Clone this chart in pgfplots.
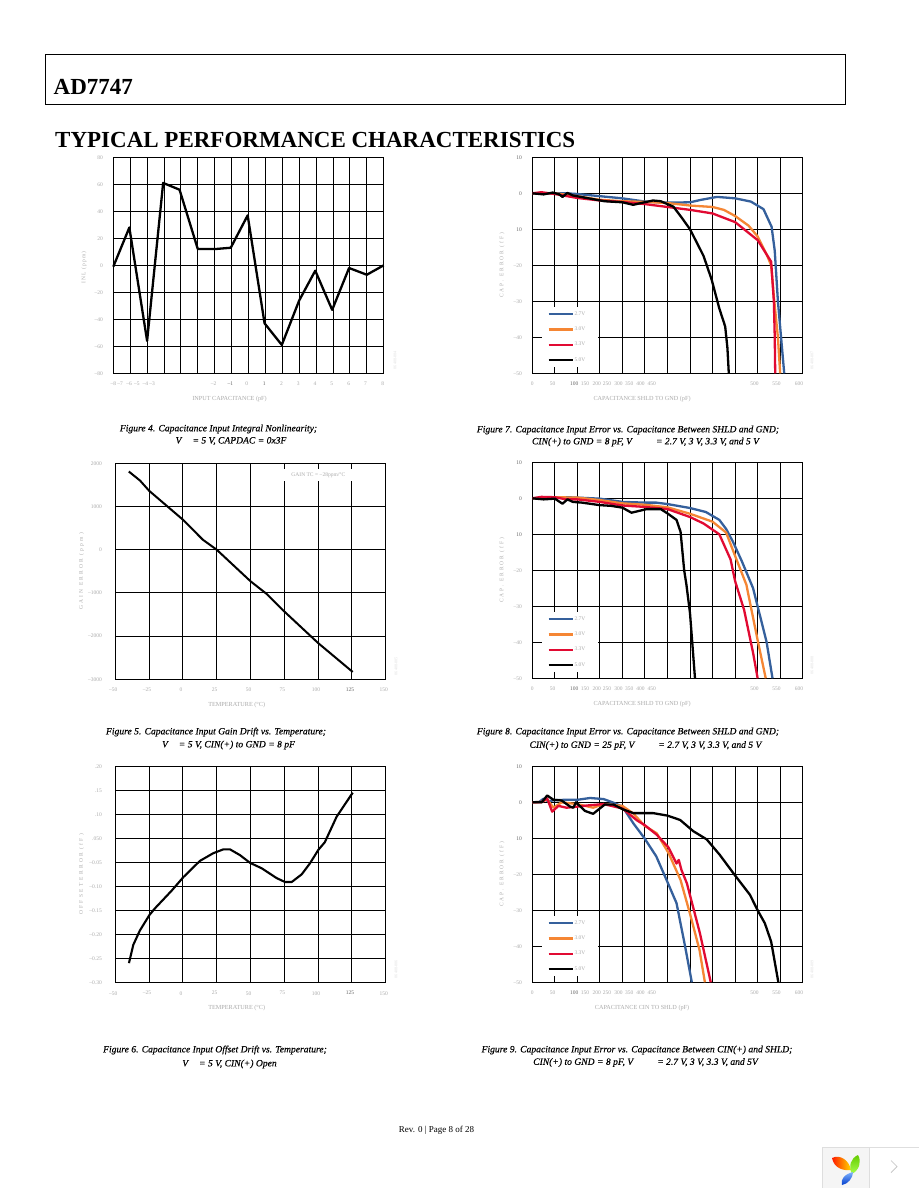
\documentclass[border=0pt]{standalone}
\usepackage{fontspec}
\setmainfont{Liberation Serif}
\newfontface\capface[FakeBold=0.2]{Liberation Serif Italic}
\usepackage{pgfplots}
\pgfplotsset{compat=1.18}
\definecolor{lg}{HTML}{ABABAB}
\definecolor{dg}{HTML}{666666}
\definecolor{cblue}{HTML}{35609C}
\definecolor{corange}{HTML}{F58634}
\definecolor{cred}{HTML}{E10A32}
\newcommand{\tinyf}{\fontsize{5.5}{6.5}\selectfont}
\newcommand{\labf}{\fontsize{6.2}{7}\selectfont}
\newcommand{\capf}{\fontsize{9.6}{12}\selectfont\capface}
\newcommand{\vdd}[1]{V\hspace{#1}}
\newcommand{\spaced}[2]{{\tinyf\addfontfeature{LetterSpace=#1}#2}}
\newcommand{\lgt}[1]{\makebox[18pt][l]{#1}}
\pgfplotsset{
  base/.style={scale only axis,width=270.4pt,height=216pt,anchor=north west,
    grid=major,major grid style={black,line width=0.95pt},
    axis line style={line width=1.4pt},
    major tick length=0pt,
    tick label style={font=\tinyf,text=lg},
    label style={font=\labf,text=lg},
    xticklabel shift=5.5pt,yticklabel shift=7pt,
    extra x tick style={grid=none,major tick length=0pt},
    clip=false,
  },
  caps/.style={base,
    xmin=0,xmax=600,ymin=-50,ymax=10,
    xtick={0,50,...,600},xticklabels={},
    ytick={-50,-40,...,10},
    yticklabels={--50,--40,--30,--20,\textcolor{dg}{10},\textcolor{dg}{0},\textcolor{dg}{10}},
    extra x ticks={0,45,93,117,143,166,191,215,240,265,493,542,592},
    extra x tick labels={0,50,\textcolor{dg}{100},150,200,250,300,350,400,450,500,550,600},
    ylabel style={at={(rel axis cs:-0.112,0.5)},anchor=center},
    xlabel style={at={(rel axis cs:0.406,-0.119)},anchor=center},
    legend style={at={(axis cs:20.7,-31.5)},anchor=north west,draw=none,fill=white,
      font=\tinyf,text=lg,inner xsep=5.7pt,inner ysep=4.6pt,row sep=10.2pt,
      nodes={inner sep=0pt,anchor=west}},
    legend cell align=left,
    legend image code/.code={\draw[##1] (0pt,0pt) -- (18pt,0pt); \path (18pt,0pt) -- (24.7pt,0pt);},
  },
  temp/.style={base,
    xmin=-50,xmax=150,xtick={-50,-25,...,150},
    xticklabels={--50,--25,0,25,50,75,100,\textcolor{dg}{125},150},
    xticklabel style={xshift=-2pt},yticklabel shift=10pt,
    xlabel style={at={(rel axis cs:0.449,-0.119)},anchor=center},
    ylabel style={at={(rel axis cs:-0.125,0.5)},anchor=center},
  },
  cl/.style={no markers,line width=2.3pt,line join=round,#1},
}
\begin{document}
\begin{tikzpicture}[x=1pt,y=1pt]
\path[use as bounding box,fill=white] (0,0) rectangle (918,-1188);
% header
\draw[line width=0.9pt] (45.3,-54.3) rectangle (845.5,-104.3);
\node[anchor=base west,inner sep=0pt,font=\fontsize{23}{24}\selectfont\bfseries] at (53.5,-94.5) {AD7747};
\node[anchor=base west,inner sep=0pt,font=\fontsize{23}{24}\selectfont\bfseries] at (55,-147.5) {TYPICAL PERFORMANCE CHARACTERISTICS};

% Figure 4
\begin{axis}[base,at={(113.3pt,-157.3pt)},
  xmin=-8,xmax=8,ymin=-80,ymax=80,
  xtick={-8,-7,...,8},xticklabels={},
  ytick={-80,-60,...,80},yticklabels={--80,--60,--40,--20,0,20,40,60,80},
  extra x ticks={-8,-7.6,-7.07,-6.6,-6.1,-5.7,-2.07,-1.07,-0.1,0.93,1.95,2.95,3.93,4.93,5.93,6.92,7.95},
  extra x tick labels={--8,--7,--6,--5,--4,--3,--2,\textcolor{dg}{--1},0,\textcolor{dg}{1},2,3,4,5,6,7,8},
  ylabel={\spaced{20}{INL (ppm)}},ylabel style={at={(rel axis cs:-0.108,0.49)},anchor=center},
  xlabel style={at={(rel axis cs:0.43,-0.119)},anchor=center},
  xlabel={INPUT CAPACITANCE (pF)}]
\addplot[cl=black] coordinates {(-8,-1)(-7.05,28)(-6,-56)(-5.05,61)(-4.08,56)(-3,12)(-2,12)(-1.05,13)(-0.05,37)(0.95,-43)(1.97,-59)(3,-26)(3.95,-4)(4.95,-33)(5.95,-2)(7,-7)(8,0)};
\end{axis}
\node[rotate=90,font=\fontsize{4.2}{5}\selectfont,text=black!12] at (395,-360) {06408-004};

% Figure 7
\begin{axis}[caps,at={(532.3pt,-157.3pt)},
  ylabel={\spaced{36}{CAP. ERROR (fF)}},xlabel={CAPACITANCE SHLD TO GND (pF)}]
\addplot[cl=cblue] coordinates {(0,0)(25,-.1)(50,0)(75,0)(100,-.2)(150,-.8)(200,-1.4)(250,-2.3)(300,-2.6)(350,-2.5)(375,-1.8)(410,-1)(450,-1.4)(485,-2.3)(513,-4.4)(531,-9.3)(538,-16)(545,-30)(552,-40)(559,-50)};
\addlegendentry{\lgt{2.7V}}
\addplot[cl=corange] coordinates {(0,0)(50,0)(100,-.8)(150,-1.8)(200,-2.2)(250,-2.4)(300,-2.7)(350,-3.4)(400,-3.8)(425,-4.6)(450,-6.3)(480,-9)(500,-12)(520,-17)(530,-20)(537,-30)(545,-40)(550,-50)};
\addlegendentry{\lgt{3.0V}}
\addplot[cl=cred] coordinates {(0,0)(20,.3)(50,-.2)(100,-1.3)(150,-2)(200,-2.4)(250,-3)(300,-3.8)(350,-4.6)(400,-5.6)(450,-8)(500,-13)(530,-19)(536,-30)(538,-40)(539,-50)};
\addlegendentry{\lgt{3.3V}}
\addplot[cl=black] coordinates {(0,0)(25,-.3)(45,.2)(60,-.3)(67,-1)(78,.1)(90,-.6)(125,-1.4)(160,-2.2)(200,-2.5)(224,-3.2)(245,-2.6)(268,-2)(285,-2.2)(313,-3.7)(330,-6.5)(350,-10)(380,-17.4)(398,-24)(415,-32)(428,-37)(433,-43)(436,-50)};
\addlegendentry{\lgt{5.0V}}
\end{axis}
\node[rotate=90,font=\fontsize{4.2}{5}\selectfont,text=black!12] at (812,-360) {06408-007};

% Figure 5
\begin{axis}[temp,at={(115.3pt,-463.3pt)},ymin=-3000,ymax=2000,
  ytick={-3000,-2000,...,2000},yticklabels={--3000,--2000,--1000,0,1000,2000},
  ylabel={\spaced{40}{GAIN ERROR (ppm)}},xlabel={TEMPERATURE (°C)}]
\addplot[cl=black,line width=2pt] coordinates {(-40,1810)(-31.7,1600)(-25,1365)(0,695)(14.8,230)(25,0)(50,-730)(62,-1025)(75,-1430)(100,-2160)(125.6,-2830)};
\node[fill=white,inner xsep=0pt,inner ysep=3pt,font=\tinyf,text=lg,minimum width=72pt,minimum height=12pt] at (axis cs:100.2,1720) {GAIN TC = −28ppm/°C\hspace{5pt}};
\end{axis}
\node[rotate=90,font=\fontsize{4.2}{5}\selectfont,text=black!12] at (396,-666) {06408-005};

% Figure 8
\begin{axis}[caps,at={(532.3pt,-462.3pt)},
  ylabel={\spaced{36}{CAP. ERROR (fF)}},xlabel={CAPACITANCE SHLD TO GND (pF)}]
\addplot[cl=cblue] coordinates {(0,0)(50,.3)(75,.3)(100,.2)(150,-.1)(200,-1)(250,-1.2)(275,-1.2)(300,-1.6)(350,-2.7)(385,-3.8)(415,-6)(430,-8.5)(445,-12)(465,-17.5)(490,-25)(500,-30)(520,-40)(533,-50)};
\addlegendentry{\lgt{2.7V}}
\addplot[cl=corange] coordinates {(0,0)(50,.3)(100,.2)(150,-.5)(200,-1.4)(250,-1.8)(300,-2.5)(350,-4.3)(400,-6.5)(430,-9.5)(450,-16)(475,-24)(501,-40)(518,-50)};
\addlegendentry{\lgt{3.0V}}
\addplot[cl=cred] coordinates {(0,0)(20,.4)(50,.3)(75,-.3)(100,-.3)(150,-1)(200,-2)(250,-2.4)(300,-3)(350,-5.2)(380,-7)(415,-10)(440,-17)(450,-23)(470,-31)(490,-43)(500,-50)};
\addlegendentry{\lgt{3.3V}}
\addplot[cl=black] coordinates {(0,0)(25,-.3)(50,-.1)(67,-1.5)(78,-.3)(90,-1)(110,-1.2)(150,-1.9)(175,-2.1)(200,-2.6)(220,-4)(254,-3)(285,-3)(300,-4.2)(320,-6)(329,-9.3)(337,-20)(342,-24)(350,-32)(361,-50)};
\addlegendentry{\lgt{5.0V}}
\end{axis}
\node[rotate=90,font=\fontsize{4.2}{5}\selectfont,text=black!12] at (812,-665) {06408-008};

% Figure 6
\begin{axis}[temp,at={(115.3pt,-766.3pt)},ymin=-0.30,ymax=0.15,
  ytick={-0.30,-0.25,-0.20,-0.15,-0.10,-0.05,0,0.05,0.10,0.15},
  yticklabels={--0.30,--0.25,--0.20,--0.15,--0.10,--0.05,.050,.10,.15,.20},
  ylabel={\spaced{40}{OFFSET ERROR (fF)}},xlabel={TEMPERATURE (°C)}]
\addplot[cl=black,line width=2.1pt] coordinates {(-39.9,-.26)(-36.7,-.222)(-31.8,-.192)(-24.8,-.16)(-20.7,-.146)(-8.3,-.109)(.3,-.081)(12.6,-.047)(22.5,-.031)(29.9,-.023)(34.8,-.023)(42.2,-.035)(49.6,-.051)(58.3,-.0625)(69.4,-.083)(75.5,-.091)(80.5,-.091)(87.9,-.075)(94,-.052)(100.2,-.024)(105,-.008)(113.7,.045)(125.6,.095)};
\end{axis}
\node[rotate=90,font=\fontsize{4.2}{5}\selectfont,text=black!12] at (396,-969) {06408-006};

% Figure 9
\begin{axis}[caps,at={(532.3pt,-766.3pt)},
  ylabel={\spaced{36}{CAP. ERROR (fF)}},xlabel={CAPACITANCE CIN TO SHLD (pF)}]
\addplot[cl=cblue] coordinates {(0,0)(15,.1)(25,1)(35,.3)(50,.6)(75,.7)(100,.7)(128,1.2)(158,.9)(180,-.1)(200,-1.2)(224,-5.8)(249,-10)(275,-15)(298,-21.6)(320,-28)(339,-40)(354,-50)};
\addlegendentry{\lgt{2.7V}}
\addplot[cl=corange] coordinates {(0,0)(20,.1)(33,.8)(47,-1.5)(65,0)(100,-.5)(135,-1.5)(158,-.5)(200,-1)(224,-3.1)(249,-6.5)(276,-8.6)(302,-14)(329,-21.6)(350,-31)(371,-41)(383,-50)};
\addlegendentry{\lgt{3.0V}}
\addplot[cl=cred] coordinates {(0,0)(20,0)(33,1.1)(44,-2.6)(58,-1)(76,-1.5)(100,-1.2)(128,-.8)(158,-.5)(200,-1.7)(232,-5)(249,-6.3)(276,-9)(302,-12.5)(320,-17)(325,-16)(331,-18.8)(343,-22.5)(372,-36.4)(396,-50)};
\addlegendentry{\lgt{3.3V}}
\addplot[cl=black] coordinates {(0,0)(21,0)(33,1.9)(47,.7)(65,.5)(84,-1.2)(91,-1.5)(97,0)(117,-2.4)(135,-3.2)(161,-.6)(180,-.6)(200,-1.9)(224,-3)(268,-3)(300,-3.7)(328,-4.9)(357,-8)(387,-10.3)(416,-14.6)(448,-20)(483,-25.7)(500,-30)(516,-33.6)(530,-38.7)(546,-50)};
\addlegendentry{\lgt{5.0V}}
\end{axis}
\node[rotate=90,font=\fontsize{4.2}{5}\selectfont,text=black!12] at (812,-969) {06408-009};

% captions
\node[font=\capf] at (218.5,-429) {Figure 4. Capacitance Input Integral Nonlinearity;};
\node[font=\capf] at (231,-441) {\vdd{11pt}= 5 V, CAPDAC = 0x3F};
\node[font=\capf] at (628,-430) {Figure 7. Capacitance Input Error vs. Capacitance Between SHLD and GND;};
\node[font=\capf] at (645.5,-442) {CIN(+) to GND = 8 pF, \vdd{24pt}= 2.7 V, 3 V, 3.3 V, and 5 V};
\node[font=\capf] at (216,-732) {Figure 5. Capacitance Input Gain Drift vs. Temperature;};
\node[font=\capf] at (228.5,-745) {\vdd{11pt}= 5 V, CIN(+) to GND = 8 pF};
\node[font=\capf] at (628,-732) {Figure 8. Capacitance Input Error vs. Capacitance Between SHLD and GND;};
\node[font=\capf] at (645.5,-745.5) {CIN(+) to GND = 25 pF, \vdd{24pt}= 2.7 V, 3 V, 3.3 V, and 5 V};
\node[font=\capf] at (215,-1050) {Figure 6. Capacitance Input Offset Drift vs. Temperature;};
\node[font=\capf] at (229.5,-1064) {\vdd{11pt}= 5 V, CIN(+) Open};
\node[font=\capf] at (637,-1050) {Figure 9. Capacitance Input Error vs. Capacitance Between CIN(+) and SHLD;};
\node[font=\capf] at (645.5,-1062.5) {CIN(+) to GND = 8 pF, \vdd{24pt}= 2.7 V, 3 V, 3.3 V, and 5V};
\node[font=\fontsize{9}{12}\selectfont] at (436.5,-1130.5) {Rev. 0 | Page 8 of 28};

% logo widget
\draw[draw=black!13,fill=black!4] (822.5,-1147) rectangle (869,-1190);
\draw[draw=black!13,fill=white] (869,-1147) rectangle (920,-1190);
\draw[black!25,line width=0.7pt] (891,-1160.5) -- (897,-1166.5) -- (891,-1172.5);
\shade[left color=red!80!orange,right color=yellow!70!orange] (832,-1158) .. controls (840,-1154) and (849,-1160) .. (851,-1170) .. controls (843,-1171) and (834,-1168) .. (832,-1158) -- cycle;
\shade[bottom color=yellow!50!green!70!white,top color=green!50!yellow!80!black] (858,-1155) .. controls (862,-1162) and (859,-1170) .. (852,-1174) .. controls (848,-1166) and (851,-1158) .. (858,-1155) -- cycle;
\shade[top color=cyan!40!blue!50,bottom color=blue!70!cyan!80!black] (853,-1172) .. controls (853,-1178) and (848,-1184) .. (842,-1185) .. controls (840,-1179) and (845,-1174) .. (853,-1172) -- cycle;
\end{tikzpicture}
\end{document}
